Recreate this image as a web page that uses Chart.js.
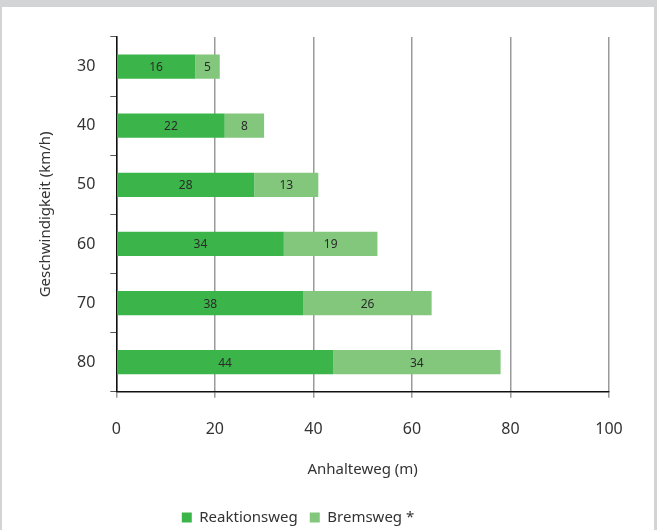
<!DOCTYPE html>
<html>
<head>
<meta charset="utf-8">
<script src="https://cdn.jsdelivr.net/npm/chart.js@4/dist/chart.umd.min.js"></script>
<style>
  html, body { margin: 0; padding: 0; background: #d3d4d6; overflow: hidden; }
  #panel { position: absolute; left: 2px; top: 7px; width: 652px; height: 523px; background: #fff; overflow: hidden; }
  canvas { display: block; }
</style>
</head>
<body>
<div id="panel"><canvas id="stopChart" width="652" height="528"></canvas></div>
<script>
// Geschwindigkeit (km/h)
const speeds = ['30', '40', '50', '60', '70', '80'];
// Reaktionsweg (m)
const reaktionsweg = [16, 22, 28, 34, 38, 44];
// Bremsweg (m)
const bremsweg = [5, 8, 13, 19, 26, 34];

const fontFamily = "'Noto Sans', sans-serif";

// draw the segment values in the middle of each bar
const barLabels = {
    id: 'barLabels',
    afterDatasetsDraw(chart) {
        const ctx = chart.ctx;
        ctx.save();
        ctx.font = '12px ' + fontFamily;
        ctx.fillStyle = '#2b2b2b';
        ctx.textAlign = 'center';
        ctx.textBaseline = 'middle';
        chart.data.datasets.forEach((ds, i) => {
            chart.getDatasetMeta(i).data.forEach((bar, j) => {
                const mid = (bar.x + bar.base) / 2;
                ctx.fillText(ds.data[j], mid, bar.y + 1);
            });
        });
        ctx.restore();
    }
};

// legend in the original sits a bit left of the canvas centre
const legendShift = {
    id: 'legendShift',
    afterLayout(chart) {
        chart.legend.left -= 25;
        chart.legend.right -= 25;
    }
};

new Chart(document.getElementById('stopChart').getContext('2d'), {
    type: 'bar',
    data: {
        labels: speeds,
        datasets: [{
            label: 'Reaktionsweg',
            data: reaktionsweg,
            backgroundColor: '#3bb54a',
            barPercentage: 0.41,
            categoryPercentage: 1
        }, {
            label: 'Bremsweg *',
            data: bremsweg,
            backgroundColor: '#82c77c',
            barPercentage: 0.41,
            categoryPercentage: 1
        }]
    },
    options: {
        indexAxis: 'y',
        responsive: false,
        animation: false,
        layout: { padding: { left: 35, right: 45, top: 30, bottom: 0 } },
        plugins: {
            legend: {
                position: 'bottom',
                labels: {
                    font: { family: fontFamily, size: 15 },
                    color: '#333',
                    boxWidth: 10,
                    boxHeight: 10,
                    padding: 12
                }
            },
            tooltip: { enabled: false }
        },
        scales: {
            x: {
                stacked: true,
                min: 0,
                max: 100,
                ticks: {
                    stepSize: 20,
                    font: { family: fontFamily, size: 16 },
                    color: '#333',
                    padding: 22
                },
                grid: {
                    color: '#9a9a9a',
                    lineWidth: 1.5,
                    tickLength: 6
                },
                border: { color: '#111', width: 1.5 },
                title: {
                    display: true,
                    text: 'Anhalteweg (m)',
                    font: { family: fontFamily, size: 15 },
                    color: '#333',
                    padding: { top: 0, bottom: 19 }
                }
            },
            y: {
                stacked: true,
                ticks: {
                    font: { family: fontFamily, size: 16 },
                    color: '#333',
                    padding: 15
                },
                grid: {
                    drawOnChartArea: false,
                    color: '#555',
                    tickLength: 6
                },
                border: { color: '#111', width: 1.5 },
                title: {
                    display: true,
                    text: 'Geschwindigkeit (km/h)',
                    font: { family: fontFamily, size: 15 },
                    color: '#333',
                    padding: { top: 0, bottom: 7 }
                }
            }
        }
    },
    plugins: [barLabels, legendShift]
});
</script>
</body>
</html>
